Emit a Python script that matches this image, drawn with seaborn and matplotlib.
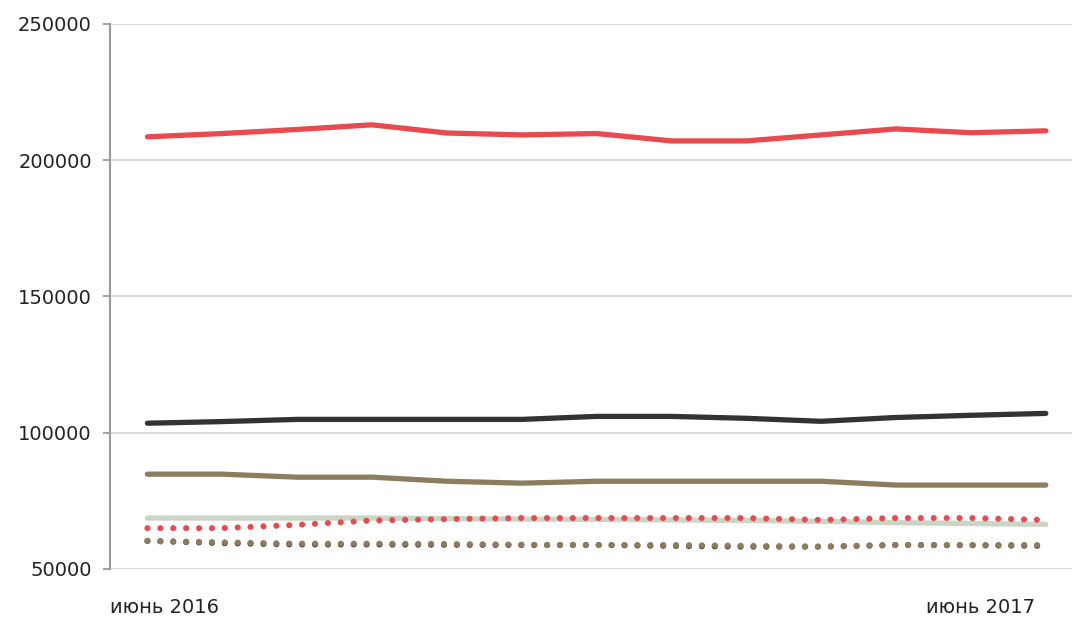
import matplotlib
matplotlib.use("Agg")
import matplotlib.pyplot as plt
import seaborn as sns
import pandas as pd
import numpy as np

months = ["июнь 2016", "июль 2016", "авг 2016", "сен 2016", "окт 2016", "ноя 2016",
          "дек 2016", "янв 2017", "фев 2017", "мар 2017", "апр 2017", "май 2017", "июнь 2017"]

red_solid = [208600, 209800, 211300, 213000, 210000, 209300, 209800, 207100, 207100, 209300, 211500, 210100, 210800]
black_solid = [103500, 104100, 104900, 104900, 104900, 104900, 106000, 106000, 105300, 104200, 105600, 106400, 107100]
brown_solid = [84800, 84800, 83700, 83700, 82200, 81500, 82200, 82200, 82200, 82200, 80800, 80800, 80800]
green_solid = [68700, 68700, 68700, 68700, 68500, 68300, 68200, 68000, 67800, 67500, 67000, 66700, 66400]
red_dotted = [65000, 65000, 66200, 67800, 68300, 68700, 68700, 68700, 68700, 68000, 68700, 68700, 68000]
black_dotted = [60300, 59500, 59000, 59000, 58900, 58800, 58800, 58500, 58200, 58200, 58800, 58700, 58500]
brown_dotted = [60300, 59800, 59300, 59300, 59200, 58900, 58800, 58800, 58500, 58200, 58800, 58800, 58800]

yticks = [50000, 100000, 150000, 200000, 250000]
xlabels = ["июнь 2016", "июнь 2017"]

sns.set_theme(style="white")
plt.rcParams['font.family'] = ['DejaVu Sans']

fig = plt.figure(figsize=(10.72, 6.21), dpi=100)
ax = fig.add_axes([110/1072, (621-569)/621, 1 - 110/1072, (569-24)/621])

x = np.arange(len(months))
series = [
    (red_solid, "#E84A50", "solid"),
    (black_solid, "#333333", "solid"),
    (brown_solid, "#8C7D5E", "solid"),
    (green_solid, "#CAD5C6", "solid"),
    (black_dotted, "#333333", "dotted"),
    (brown_dotted, "#8C7D5E", "dotted"),
    (red_dotted, "#E84A50", "dotted"),
]
for vals, col, ls in series:
    df = pd.DataFrame({"x": x, "y": vals})
    if ls == "solid":
        sns.lineplot(data=df, x="x", y="y", ax=ax, color=col, linewidth=3.8,
                     solid_capstyle="round", solid_joinstyle="round")
    else:
        sns.lineplot(data=df, x="x", y="y", ax=ax, color=col, linewidth=4.4,
                     linestyle=(0, (0.01, 2.1)), dash_capstyle="round")

ax.set_ylim(50000, 250000)
ax.set_xlim(-0.494, 12.35)
ax.set_yticks(yticks)
ax.set_yticklabels([str(v) for v in yticks], fontsize=14, color="#222222")
ax.yaxis.grid(True, color="#D9D9D9", linewidth=1.3)
ax.xaxis.grid(False)
ax.set_axisbelow(True)

for s in ["top", "right", "bottom"]:
    ax.spines[s].set_visible(False)
ax.spines["left"].set_color("#999999")
ax.spines["left"].set_linewidth(1.5)
ax.tick_params(axis="y", left=True, length=5, width=1.3, color="#999999", pad=8)

ax.set_xticks([-0.5, 11.86])
ax.set_xticklabels(xlabels, fontsize=14, color="#222222")
ax.tick_params(axis="x", bottom=False, pad=15)
tl = ax.get_xticklabels()
tl[0].set_ha("left")
tl[1].set_ha("right")
ax.set_xlabel("")
ax.set_ylabel("")

fig.savefig("out.png", dpi=100)
